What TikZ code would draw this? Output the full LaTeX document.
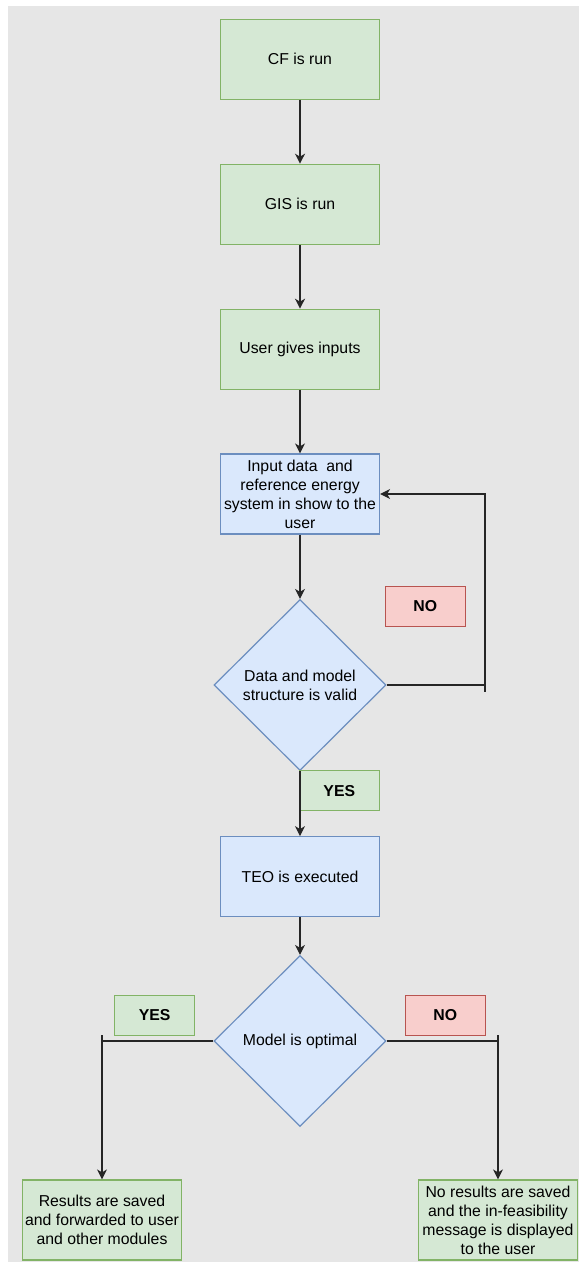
\documentclass[tikz,border=0pt]{standalone}
\usepackage{fontspec}
\setmainfont{Liberation Sans}
\usepackage{xcolor}
\usepackage{tikz}
\usetikzlibrary{shapes.geometric,arrows.meta}

\definecolor{bggray}{HTML}{E6E6E6}
\definecolor{greenfill}{HTML}{D5E8D4}
\definecolor{greenline}{HTML}{82B366}
\definecolor{bluefill}{HTML}{DAE8FC}
\definecolor{blueline}{HTML}{6C8EBF}
\definecolor{redfill}{HTML}{F8CECC}
\definecolor{redline}{HTML}{B85450}

\tikzset{
	every node/.style={font=\fontsize{15.8}{19}\selectfont, align=center},
	greenbox/.style={draw=greenline, fill=greenfill, line width=1.2pt, minimum width=159pt, minimum height=80pt, inner sep=0pt},
	bluebox/.style={draw=blueline, fill=bluefill, line width=1.2pt, minimum width=159pt, minimum height=80pt, inner sep=0pt},
	decision/.style={diamond, draw=blueline, fill=bluefill, line width=1.2pt, minimum width=172pt, minimum height=171pt, inner sep=0pt},
	greentag/.style={draw=greenline, fill=greenfill, line width=1.2pt, minimum width=80pt, minimum height=40pt, inner sep=0pt, font=\fontsize{15.8}{19}\selectfont\bfseries},
	redtag/.style={draw=redline, fill=redfill, line width=1.2pt, minimum width=80pt, minimum height=40pt, inner sep=0pt, font=\fontsize{15.8}{19}\selectfont\bfseries},
	link/.style={draw=black!85, line width=1.2pt},
	flow/.style={link, -{Stealth[length=10pt, width=10pt, inset=3pt]}}
}

\begin{document}
\begin{tikzpicture}[x=1pt, y=-1pt]
		% background and page size
		\useasboundingbox (0,0) rectangle (579,1265);
		\fill[bggray] (8,6) rectangle (579,1262);
		
		% draw the steps
		\node[greenbox] (cf) at (300,59.3) {CF is run};
		\node[greenbox] (gis) at (300,204.3) {GIS is run};
		\node[greenbox] (inputs) at (300,349.3) {User gives inputs};
		\node[bluebox] (show) at (300,494) {Input data\ \ and\\reference energy\\system in show to the\\user};
		\node[decision] (valid) at (300,685) {Data and model\\structure is valid};
		\node[bluebox] (teo) at (300,876.7) {TEO is executed};
		\node[decision] (optimal) at (300,1041) {Model is optimal};
		\node[greenbox] (saved) at (102,1220) {Results are saved\\and forwarded to user\\and other modules};
		\node[greenbox] (failed) at (498,1220) {No results are saved\\and the in-feasibility\\message is displayed\\to the user};
		
		% draw the yes / no labels
		\node[redtag] (no1) at (425.3,606.3) {NO};
		\node[greentag] (yes1) at (339.3,790.7) {YES};
		\node[greentag] (yes2) at (154.7,1015.3) {YES};
		\node[redtag] (no2) at (445.2,1015.3) {NO};
		
		% corners of the connecting lines
		\coordinate (loop) at (485,691.7);
		\coordinate (ltick) at (102,1035.3);
		\coordinate (rtick) at (498,1035.3);
		
		% draw the connecting lines
		\draw[flow] (cf) -- (gis);
		\draw[flow] (gis) -- (inputs);
		\draw[flow] (inputs) -- (show);
		\draw[flow] (show) -- (valid);
		\draw[link] (valid.east) -- (valid.east -| loop);
		\draw[flow] (loop) |- (show.east);
		\draw[flow] (valid.south) -- (teo.north);
		\draw[flow] (teo) -- (optimal.north);
		\draw[link] (optimal.west) -- (optimal.west -| ltick);
		\draw[flow] (ltick) -- (saved.north);
		\draw[link] (optimal.east) -- (optimal.east -| rtick);
		\draw[flow] (rtick) -- (failed.north);
\end{tikzpicture}
\end{document}
